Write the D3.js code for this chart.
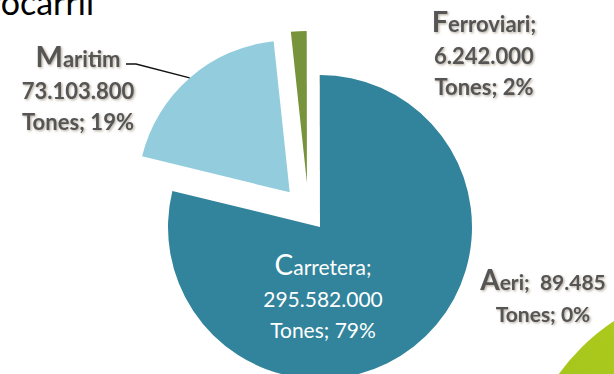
<!DOCTYPE html>
<html>
<head>
<meta charset="utf-8">
<script src="https://cdn.jsdelivr.net/npm/d3@7"></script>
<style>
  html, body { margin: 0; padding: 0; background: #ffffff; }
  svg { display: block; }
  text { white-space: pre; }
</style>
</head>
<body>
<svg id="chart" width="614" height="374"></svg>
<script>
// ---- data ----
const categories = ["Carretera", "Maritim", "Ferroviari", "Aeri"];
const values = [295582000, 73103800, 6242000, 89485];
const unitLabel = "Tones";
const titleText = "Ferrocarril";

// ---- style / layout ----
const colors = ["#31849b", "#93cddd", "#77933c", "#4f6228"];
const explodeDist = [0, 46, 46, 0];
const explodeDirDeg = [null, null, 343.5, null];   // null = along slice bisector
const labelLayout = {
  Carretera: { x: 323, y: 275, fill: "#ffffff", weight: 400, size: 21, sep: ";", oneLine: false },
  Maritim:   { x: 78,  y: 67,  fill: "#555555", weight: 700, size: 22, sep: "",  oneLine: false, leader: true },
  Ferroviari:{ x: 484, y: 32,  fill: "#555555", weight: 700, size: 22, sep: ";", oneLine: false },
  Aeri:      { x: 543, y: 290, fill: "#555555", weight: 700, size: 21, sep: ";", oneLine: true }
};

const W = 614, H = 374;
const cx = 320, cy = 227, R = 152;
const svg = d3.select("#chart");

const defs = svg.append("defs");
const grad = defs.append("linearGradient").attr("id", "lime")
  .attr("x1", "0%").attr("y1", "100%").attr("x2", "100%").attr("y2", "0%");
grad.append("stop").attr("offset", "0%").attr("stop-color", "#95ba22");
grad.append("stop").attr("offset", "55%").attr("stop-color", "#abc91c");
grad.append("stop").attr("offset", "100%").attr("stop-color", "#d6e348");
const sh = defs.append("filter").attr("id", "tshadow").attr("x", "-10%").attr("y", "-20%").attr("width", "130%").attr("height", "150%");
sh.append("feDropShadow").attr("dx", 1.2).attr("dy", 1.2).attr("stdDeviation", 0.8)
  .attr("flood-color", "#7a6a50").attr("flood-opacity", 0.55);

// decorative lime swoosh bottom-right
svg.append("circle").attr("cx", 733).attr("cy", 500).attr("r", 215).attr("fill", "url(#lime)");

// title (partially off-canvas, as in the reference)
svg.append("text").attr("x", 94).attr("y", 15)
  .attr("text-anchor", "end")
  .style("font-family", "Lato, 'Open Sans', sans-serif")
  .style("font-size", "34px").attr("fill", "#000")
  .text(titleText);

// ---- pie ----
const total = d3.sum(values);
const rows = categories.map((c, i) => ({ cat: c, v: values[i], i }));
const pie = d3.pie().sort(null).value(d => d.v);
const arcs = pie(rows);
const arc = d3.arc().innerRadius(0).outerRadius(R);

function offsetOf(d) {
  const i = d.data.i;
  const ang = explodeDirDeg[i] == null ? (d.startAngle + d.endAngle) / 2 : explodeDirDeg[i] * Math.PI / 180;
  return [Math.sin(ang) * explodeDist[i], -Math.cos(ang) * explodeDist[i]];
}

const g = svg.append("g").attr("transform", `translate(${cx},${cy})`);
g.selectAll("path.slice").data(arcs).join("path")
  .attr("class", "slice")
  .attr("transform", d => { const o = offsetOf(d); return `translate(${o[0]},${o[1]})`; })
  .attr("d", arc)
  .attr("fill", d => colors[d.data.i]);

// ---- labels ----
const loc = d3.formatLocale({ decimal: ",", thousands: ".", grouping: [3], currency: ["", ""] });
const fmtNum = loc.format(",d");
const fmtPct = v => Math.round(v * 100) + "%";

const fontFam = "Lato, 'Open Sans', sans-serif";
arcs.forEach(d => {
  const c = d.data.cat;
  const L = labelLayout[c];
  const name = c + L.sep;
  const num = fmtNum(d.data.v);
  const pctLine = unitLabel + "; " + fmtPct(d.data.v / total);
  const lines = L.oneLine ? [[name, "  " + num], [null, pctLine]] : [[name, ""], [null, num], [null, pctLine]];
  const t = svg.append("text")
    .attr("text-anchor", "middle")
    .attr("fill", L.fill)
    .style("font-family", fontFam)
    .style("font-weight", L.weight)
    .attr("filter", L.fill === "#ffffff" ? null : "url(#tshadow)");
  lines.forEach((ln, k) => {
    const y = L.y + k * 31.5;
    if (ln[0] != null) {
      t.append("tspan").attr("x", L.x).attr("y", y)
        .style("font-size", (L.size + 7) + "px").text(ln[0][0]);
      t.append("tspan").style("font-size", L.size + "px").text(ln[0].slice(1) + ln[1]);
    } else {
      t.append("tspan").attr("x", L.x).attr("y", y).style("font-size", L.size + "px").text(ln[1]);
    }
  });
  if (L.leader) {
    const o = offsetOf(d);
    const mid = (d.startAngle + d.endAngle) / 2;
    const ex = cx + o[0] + Math.sin(mid) * R;
    const ey = cy + o[1] - Math.cos(mid) * R;
    const sx = L.x + 48;
    svg.append("path")
      .attr("d", `M${sx},${L.y - 3}L${sx + 10},${L.y - 3}L${ex},${ey}`)
      .attr("fill", "none").attr("stroke", "#111").attr("stroke-width", 1.4);
  }
});
</script>
</body>
</html>
